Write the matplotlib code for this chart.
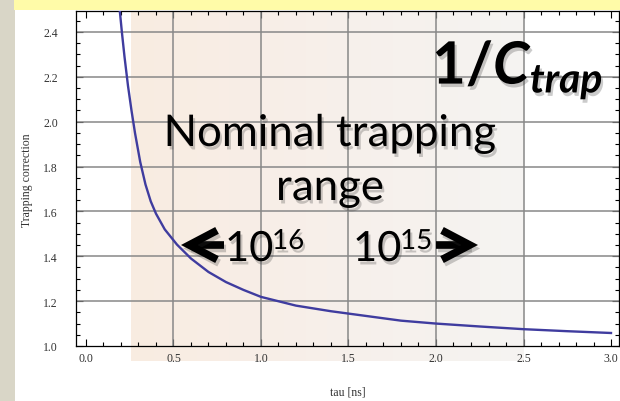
import numpy as np
import matplotlib
matplotlib.use("Agg")
import matplotlib.pyplot as plt
import matplotlib.patheffects as pe
from matplotlib.patches import Rectangle
from matplotlib.colors import LinearSegmentedColormap
from matplotlib.ticker import MultipleLocator, FormatStrFormatter

plt.rcParams['mathtext.fontset'] = 'custom'
plt.rcParams['mathtext.rm'] = 'Lato'
plt.rcParams['mathtext.it'] = 'Lato:italic'
plt.rcParams['mathtext.bf'] = 'Lato:bold'
plt.rcParams['mathtext.bfit'] = 'Lato:italic:bold'

# curve
tau_ns = [0.19, 0.205, 0.22, 0.24, 0.26, 0.28, 0.31, 0.34, 0.37, 0.40, 0.45,
          0.52, 0.60, 0.70, 0.80, 0.90, 1.00, 1.20, 1.40, 1.60, 1.80, 2.00,
          2.25, 2.50, 2.75, 3.00]
trap_corr = [2.52, 2.40, 2.29, 2.16, 2.05, 1.95, 1.82, 1.72, 1.645, 1.59, 1.52,
             1.452, 1.39, 1.33, 1.285, 1.25, 1.219, 1.18, 1.155, 1.134, 1.113, 1.10,
             1.087, 1.075, 1.066, 1.058]

# nominal trapping range (shaded band)
range_lo, range_hi = 0.26, 2.5

x_grid = [0.5, 1.0, 1.5, 2.0, 2.5]
y_grid = [1.2, 1.4, 1.6, 1.8, 2.0, 2.2, 2.4]

W, H = 620, 402
fig = plt.figure(figsize=(W / 100, H / 100), dpi=100)
fig.patch.set_facecolor('white')

# slide decorations
fig.add_artist(Rectangle((0, 0), 15 / W, 1, transform=fig.transFigure,
                         facecolor='#d9d6c7', edgecolor='none', zorder=0))
fig.add_artist(Rectangle((14 / W, 1 - 11 / H), 1, 11 / H, transform=fig.transFigure,
                         facecolor='#fffba8', edgecolor='none', zorder=0))

ax = fig.add_axes([76 / W, 55 / H, 543 / W, 335 / H])
ymin, ymax = 1.0, 2.4936
xmin, xmax = -0.0571, 3.0457

cmap = LinearSegmentedColormap.from_list('shade', ['#f9ebe0', '#f5f4f2'])
grad = np.linspace(0, 1, 256).reshape(1, -1)
ax.imshow(grad, cmap=cmap, aspect='auto', zorder=0.2, clip_on=False,
          extent=(range_lo, range_hi, ymin - 15 / 224.3, ymax), alpha=0.95)

for gx in x_grid:
    ax.axvline(gx, color='#888888', lw=1.1, zorder=0.6)
for gy in y_grid:
    ax.axhline(gy, color='#888888', lw=1.1, zorder=0.6)

ax.plot(tau_ns, trap_corr, color='#3f3c9f', lw=1.7, zorder=3)

ax.set_xlim(xmin, xmax)
ax.set_ylim(ymin, ymax)
ax.xaxis.set_major_locator(MultipleLocator(0.5))
ax.xaxis.set_minor_locator(MultipleLocator(0.1))
ax.yaxis.set_major_locator(MultipleLocator(0.2))
ax.yaxis.set_minor_locator(MultipleLocator(0.05))
ax.xaxis.set_major_formatter(FormatStrFormatter('%.1f'))
ax.yaxis.set_major_formatter(FormatStrFormatter('%.1f'))
ax.tick_params(which='both', direction='in', top=True, right=True, color='black', width=0.8)
ax.tick_params(which='major', length=5)
ax.tick_params(which='minor', length=3)
ax.tick_params(axis='x', pad=4)
ax.tick_params(axis='y', pad=13)
for lab in ax.get_xticklabels() + ax.get_yticklabels():
    lab.set_fontfamily('Liberation Serif')
    lab.set_fontsize(8.5)
    lab.set_color('#333333')
for sp in ax.spines.values():
    sp.set_linewidth(0.9)
ax.set_axisbelow(True)


def ftxt(x, y, s, **kw):
    return fig.text(x / W, 1 - y / H, s, **kw)


ftxt(27, 180, 'Trapping correction', rotation=90, ha='center', va='center',
     family='Liberation Serif', fontsize=8.5, color='#333333')
ftxt(348, 393, 'tau [ns]', ha='center', va='center',
     family='Liberation Serif', fontsize=8.5, color='#333333')

shadow = [pe.withSimplePatchShadow(offset=(1.5, -2.5), shadow_rgbFace='0.2', alpha=0.25)]
big = dict(family='Lato', color='black', path_effects=shadow)
ftxt(330, 147, 'Nominal trapping', ha='center', va='baseline', fontsize=31.5, **big)
ftxt(330, 201, 'range', ha='center', va='baseline', fontsize=31.5, **big)
ftxt(225, 262, '10', ha='left', va='baseline', fontsize=30, **big)
ftxt(272, 250, '16', ha='left', va='baseline', fontsize=20, **big)
ftxt(353, 262, '10', ha='left', va='baseline', fontsize=30, **big)
ftxt(400, 250, '15', ha='left', va='baseline', fontsize=20, **big)
ftxt(432, 85, r'$\mathbf{1/}\mathbfit{C}_{\mathbfit{trap}}$', ha='left', va='baseline',
     fontsize=42, color='black', path_effects=shadow)

arrow_fx = [pe.SimpleLineShadow(offset=(1.5, -2.5), shadow_color='0.2', alpha=0.25), pe.Normal()]
astyle = dict(arrowstyle='->,head_length=2.0,head_width=1.05', lw=5.5, color='black',
              mutation_scale=10, joinstyle='miter', capstyle='butt',
              shrinkA=0, shrinkB=0, path_effects=arrow_fx)
ax.annotate('', xy=(181, H - 246), xytext=(224, H - 246),
            xycoords='figure pixels', textcoords='figure pixels', arrowprops=astyle)
ax.annotate('', xy=(478, H - 246), xytext=(436, H - 246),
            xycoords='figure pixels', textcoords='figure pixels', arrowprops=astyle)

fig.savefig('out.png', dpi=100)
